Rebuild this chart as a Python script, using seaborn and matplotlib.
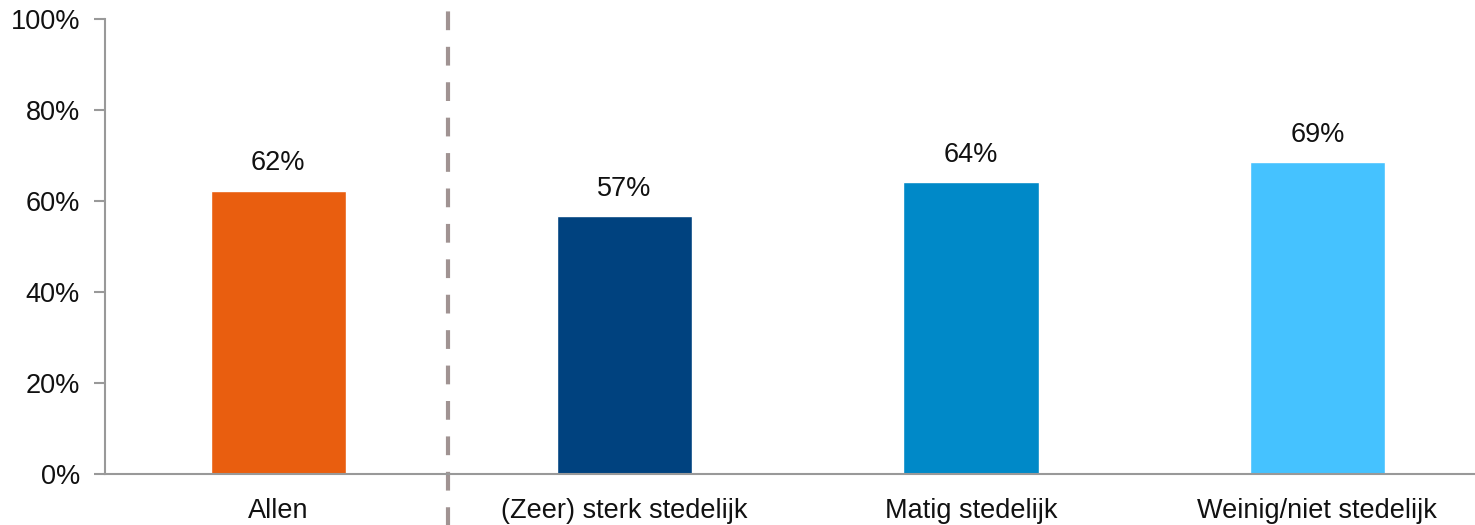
import matplotlib
matplotlib.use("Agg")
import matplotlib.pyplot as plt
import matplotlib.transforms as mtransforms
import seaborn as sns
import pandas as pd

categories = ["Allen", "(Zeer) sterk stedelijk", "Matig stedelijk", "Weinig/niet stedelijk"]
values = [62.2, 56.6, 64.1, 68.5]
value_labels = ["62%", "57%", "64%", "69%"]
colors = ["#E95E0F", "#00427F", "#0089C8", "#45C2FF"]
yticks = [0, 20, 40, 60, 80, 100]

sns.set_theme(style="white")
plt.rcParams["font.family"] = ["Liberation Sans", "DejaVu Sans"]

df = pd.DataFrame({"cat": categories, "val": values})

fig = plt.figure(figsize=(14.75, 5.25), dpi=100)
ax = fig.add_axes([0.0712, 0.0971, 0.9288, 0.8667])

sns.barplot(data=df, x="cat", y="val", hue="cat", palette=colors, legend=False,
            width=0.39, ax=ax, saturation=1)

fs = 19.5
for i, (v, lab) in enumerate(zip(values, value_labels)):
    ax.text(i, v + 3.2, lab, ha="center", va="bottom", fontsize=fs, color="#111111")

ax.set_ylim(0, 100)
ax.set_xlim(-0.5, 3.455)
ax.set_yticks(yticks)
ax.set_yticklabels([f"{t}%" for t in yticks])
ax.set_xlabel("")
ax.set_ylabel("")

for s in ["top", "right"]:
    ax.spines[s].set_visible(False)
for s in ["left", "bottom"]:
    ax.spines[s].set_color("#999999")
    ax.spines[s].set_linewidth(1.5)

ax.tick_params(axis="y", which="both", left=True, length=8, width=1.5, color="#999999",
               labelsize=fs, labelcolor="#111111", pad=10)
ax.tick_params(axis="x", bottom=False, labelsize=fs, labelcolor="#111111", pad=11)

trans = mtransforms.blended_transform_factory(ax.transData, ax.transAxes)
ax.plot([0.49, 0.49], [-0.12, 1.02], transform=trans, clip_on=False,
        color="#A09392", linewidth=3, linestyle=(0, (4.5, 4)))

fig.savefig("out.png", dpi=100)
